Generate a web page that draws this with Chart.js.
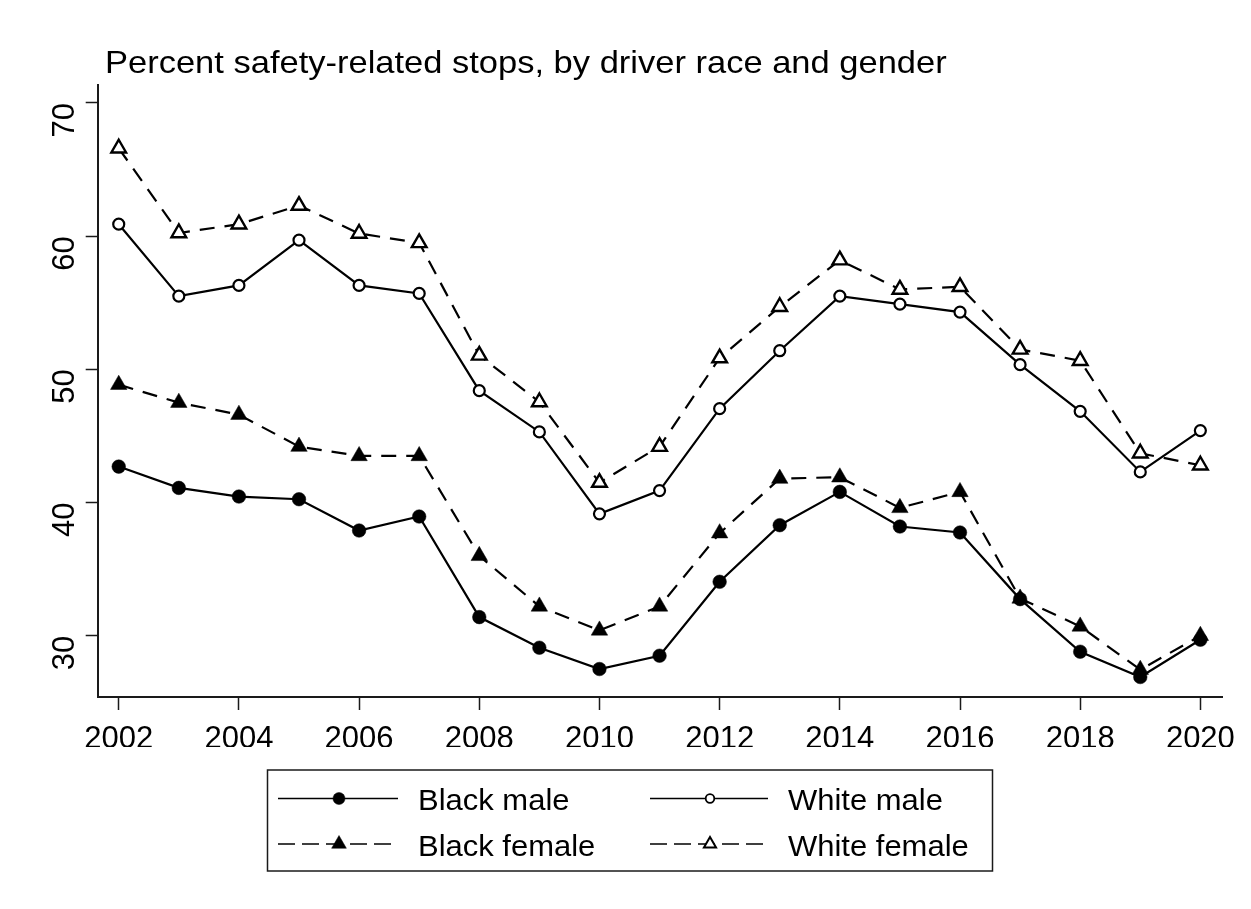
<!DOCTYPE html>
<html>
<head>
<meta charset="utf-8">
<script src="https://cdn.jsdelivr.net/npm/chart.js@4.4.1/dist/chart.umd.min.js"></script>
<style>
  html, body { margin: 0; padding: 0; background: #fff; }
  #wrap { width: 1251px; height: 909px; position: relative; }
</style>
</head>
<body>
<div id="wrap"><canvas id="c" width="1251" height="909"></canvas></div>
<script>
const titleText = "Percent safety-related stops, by driver race and gender";
const years = [2002,2003,2004,2005,2006,2007,2008,2009,2010,2011,2012,2013,2014,2015,2016,2017,2018,2019,2020];
const xTicks = [2002,2004,2006,2008,2010,2012,2014,2016,2018,2020];
const yTicks = [30,40,50,60,70];
const seriesNames = ["Black male","White male","Black female","White female"];
const blackMale   = [42.7,41.1,40.45,40.25,37.9,38.95,31.4,29.1,27.5,28.5,34.05,38.3,40.8,38.2,37.75,32.75,28.8,26.9,29.7];
const whiteMale   = [60.9,55.5,56.3,59.7,56.3,55.7,48.4,45.3,39.15,40.9,47.05,51.4,55.5,54.9,54.3,50.35,46.85,42.3,45.4];
const blackFemale = [48.85,47.5,46.6,44.2,43.5,43.5,36.0,32.2,30.4,32.2,37.7,41.8,41.9,39.6,40.8,32.8,30.7,27.45,30.0];
const whiteFemale = [66.6,60.24,60.9,62.3,60.2,59.5,51.05,47.55,41.5,44.2,50.85,54.7,58.2,56.0,56.2,51.5,50.65,43.7,42.8];

const FONT = "'Liberation Sans', Arial, sans-serif";
const INK = '#000';
const AXIS = '#1a1a1a';
const DASH = [15, 10];

function pts(vals){ return years.map((y,i)=>({x:y, y:vals[i]})); }

const datasets = [
  {label: seriesNames[0], data: pts(blackMale), borderColor: INK, borderWidth: 2.2, borderDash: [],
   pointStyle: 'circle', pointRadius: 6.8, pointBackgroundColor: INK, pointBorderColor: INK, pointBorderWidth: 0.5,
   legendPointRadius: 6, legendBorderWidth: 0.5},
  {label: seriesNames[1], data: pts(whiteMale), borderColor: INK, borderWidth: 2.2, borderDash: [],
   pointStyle: 'circle', pointRadius: 5.5, pointBackgroundColor: '#fff', pointBorderColor: INK, pointBorderWidth: 2.2,
   legendPointRadius: 4.3, legendBorderWidth: 1.8},
  {label: seriesNames[2], data: pts(blackFemale), borderColor: INK, borderWidth: 2.2, borderDash: DASH,
   pointStyle: 'triangle', pointRadius: 9.5, pointBackgroundColor: INK, pointBorderColor: INK, pointBorderWidth: 0.5,
   legendPointRadius: 8.5, legendBorderWidth: 0.5},
  {label: seriesNames[3], data: pts(whiteFemale), borderColor: INK, borderWidth: 2.2, borderDash: DASH,
   pointStyle: 'triangle', pointRadius: 8.5, pointBackgroundColor: '#fff', pointBorderColor: INK, pointBorderWidth: 2.4,
   legendPointRadius: 7, legendBorderWidth: 2}
];

function drawMarker(ctx, ds, x, y, r, lw){
  ctx.save();
  ctx.setLineDash([]);
  ctx.fillStyle = ds.pointBackgroundColor;
  ctx.strokeStyle = ds.pointBorderColor;
  ctx.lineWidth = lw;
  ctx.beginPath();
  if (ds.pointStyle === 'circle') {
    ctx.arc(x, y, r, 0, Math.PI*2);
  } else {
    let a = 0;
    ctx.moveTo(x + Math.sin(a)*r, y - Math.cos(a)*r);
    a += 2*Math.PI/3;
    ctx.lineTo(x + Math.sin(a)*r, y - Math.cos(a)*r);
    a += 2*Math.PI/3;
    ctx.lineTo(x + Math.sin(a)*r, y - Math.cos(a)*r);
    ctx.closePath();
  }
  ctx.fill();
  ctx.stroke();
  ctx.restore();
}

function stretchedText(ctx, text, x, y, size, stretch){
  ctx.save();
  ctx.translate(x, y);
  ctx.scale(stretch, 1);
  ctx.font = size + "px " + FONT;
  ctx.fillStyle = INK;
  ctx.textAlign = 'left';
  ctx.textBaseline = 'alphabetic';
  ctx.fillText(text, 0, 0);
  ctx.restore();
}

const decorPlugin = {
  id: 'decor',
  afterDraw(chart){
    const ctx = chart.ctx;
    ctx.save();
    // title
    stretchedText(ctx, titleText, 105, 73, 31.5, 1.095);
    // legend box
    const bx = 267.5, by = 770, bw = 725, bh = 101;
    ctx.strokeStyle = AXIS;
    ctx.lineWidth = 1.5;
    ctx.strokeRect(bx, by, bw, bh);
    const rows = [798.5, 844];
    const cols = [{x0:278, x1:398, tx:418}, {x0:650, x1:768, tx:788}];
    const order = [[0,0],[1,0],[0,1],[1,1]]; // [col,row] for datasets 0..3
    chart.data.datasets.forEach((ds, i) => {
      const [ci, ri] = order[i];
      const c = cols[ci], y = rows[ri];
      ctx.save();
      ctx.strokeStyle = ds.borderColor;
      ctx.lineWidth = 1.6;
      ctx.setLineDash(ds.borderDash.length ? [17, 7] : []);
      ctx.beginPath();
      ctx.moveTo(c.x0, y); ctx.lineTo(c.x1, y);
      ctx.stroke();
      ctx.restore();
      drawMarker(ctx, ds, (c.x0+c.x1)/2 + 1, y, ds.legendPointRadius, ds.legendBorderWidth);
      stretchedText(ctx, ds.label, c.tx, y + 11.5, 29.5, 1.05);
    });
    ctx.restore();
  }
};

new Chart(document.getElementById('c'), {
  type: 'line',
  data: { datasets },
  options: {
    responsive: false,
    animation: false,
    layout: { padding: { left: 0, right: 29, top: 85, bottom: 162 } },
    plugins: { legend: { display: false }, title: { display: false }, tooltip: { enabled: false } },
    elements: { line: { tension: 0 } },
    scales: {
      x: {
        type: 'linear',
        min: 2001.65, max: 2020.36,
        afterBuildTicks: s => { s.ticks = xTicks.map(v => ({value: v})); },
        afterFit: s => { s.height = 50; },
        grid: { display: true, drawOnChartArea: false, drawTicks: true, tickLength: 13, tickColor: AXIS, tickWidth: 1.5 },
        border: { display: true, color: AXIS, width: 2 },
        ticks: { color: INK, font: { family: FONT, size: 31 }, padding: 11, maxRotation: 0, autoSkip: false,
                 callback: v => String(v) }
      },
      y: {
        type: 'linear',
        min: 25.4, max: 71.35,
        afterBuildTicks: s => { s.ticks = yTicks.map(v => ({value: v})); },
        afterFit: s => { s.width = 97.7; },
        grid: { display: true, drawOnChartArea: false, drawTicks: true, tickLength: 12, tickColor: AXIS, tickWidth: 1.5 },
        border: { display: true, color: AXIS, width: 2 },
        ticks: { color: INK, font: { family: FONT, size: 31 }, padding: 20, minRotation: 90, maxRotation: 90, autoSkip: false,
                 callback: v => String(v) }
      }
    }
  },
  plugins: [decorPlugin]
});
</script>
</body>
</html>
